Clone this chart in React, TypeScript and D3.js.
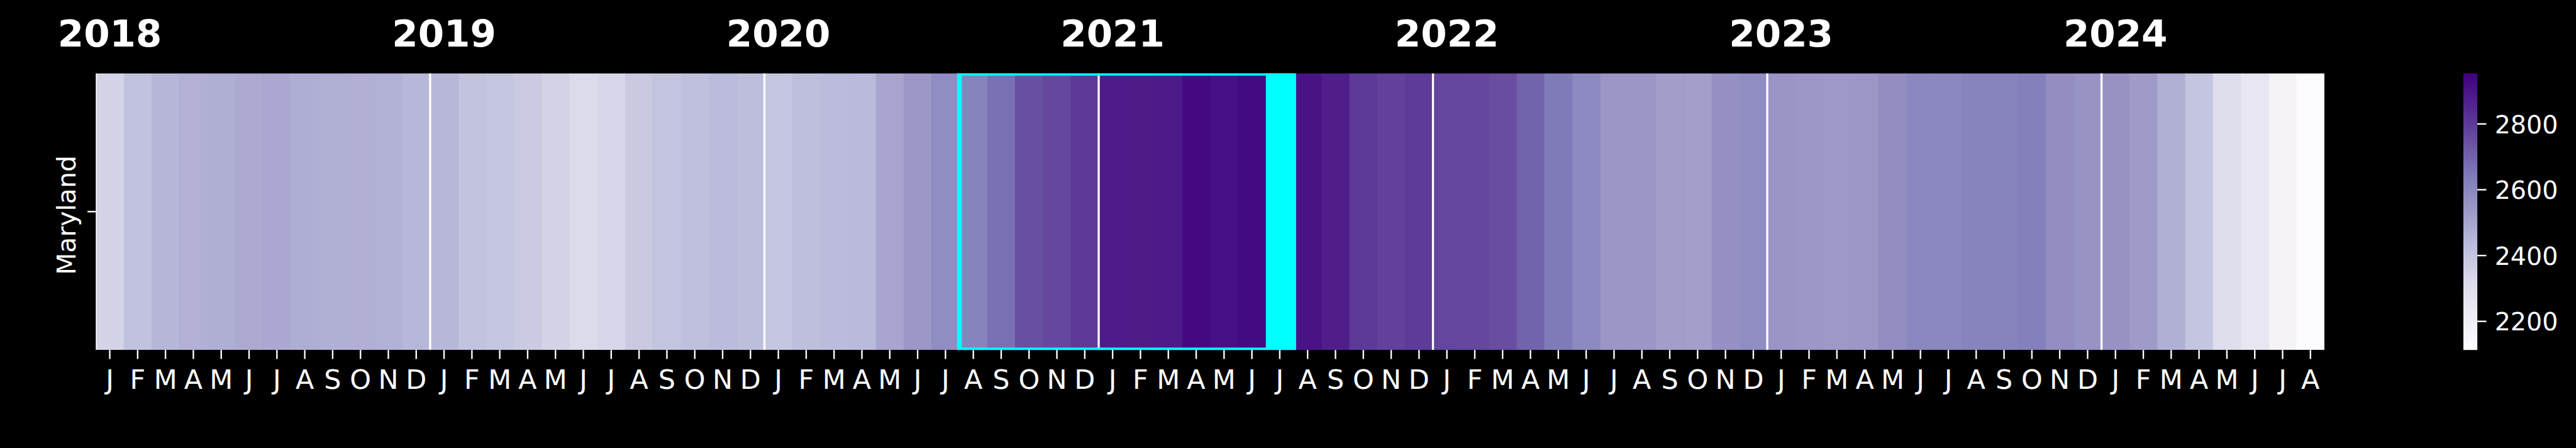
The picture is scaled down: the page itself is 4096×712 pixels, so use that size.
import { useEffect, useRef } from 'react';
import * as d3 from 'd3';

// monthly values (Maryland)
const years = [2018, 2019, 2020, 2021, 2022, 2023, 2024];
const monthLetters = ['J', 'F', 'M', 'A', 'M', 'J', 'J', 'A', 'S', 'O', 'N', 'D'];
const states = ['Maryland'];

const v2018 = [2345, 2410, 2449, 2465, 2474, 2484, 2488, 2476, 2470, 2468, 2467, 2446];
const v2019 = [2447, 2407, 2396, 2381, 2349, 2317, 2334, 2384, 2403, 2417, 2432, 2425];
const v2020 = [2396, 2421, 2432, 2434, 2503, 2544, 2581, 2613, 2670, 2746, 2769, 2806];
const v2021 = [2878, 2881, 2884, 2930, 2914, 2927, 2954, 2903, 2873, 2805, 2783, 2800];
const v2022 = [2772, 2770, 2755, 2703, 2643, 2595, 2547, 2549, 2522, 2518, 2566, 2581];
const v2023 = [2552, 2544, 2541, 2544, 2577, 2599, 2599, 2613, 2617, 2628, 2577, 2559];
const v2024 = [2561, 2530, 2470, 2399, 2301, 2257, 2173, 2113];

const boxStart = '2020-08';
const peakMonth = '2021-07';
const cbarTicks = [2200, 2400, 2600, 2800];

// matplotlib "Purples"
const PURPLES = ['#fcfbfd', '#efedf5', '#dadaeb', '#bcbddc', '#9e9ac8', '#807dba', '#6a51a3', '#54278f', '#3f007d'];

const W = 4300;
const H = 747;
const FONT = 'DejaVu Sans';

const App = () => {
  const ref = useRef(null);

  useEffect(() => {
    document.body.style.margin = '0';
    document.body.style.background = '#000';

    const values = [...v2018, ...v2019, ...v2020, ...v2021, ...v2022, ...v2023, ...v2024];
    const keys = values.map((_, i) => {
      const yr = years[0] + Math.floor(i / 12);
      const m = (i % 12) + 1;
      return `${yr}-${String(m).padStart(2, '0')}`;
    });

    const svg = d3.select(ref.current);
    svg.selectAll('*').remove();
    svg
      .attr('viewBox', `0 0 ${W} ${H}`)
      .attr('width', 4096)
      .attr('height', 712)
      .style('display', 'block')
      .style('background', '#000');

    const left = 160, right = 3880, top = 122, bottom = 583.7;

    const x = d3.scaleBand().domain(keys).range([left, right]);
    const y = d3.scaleBand().domain(states).range([top, bottom]);

    const extent = d3.extent(values);
    const norm = d3.scaleLinear().domain(extent).range([0, 1]).clamp(true);
    const purples = d3
      .scaleLinear()
      .domain(PURPLES.map((_, i) => i / (PURPLES.length - 1)))
      .range(PURPLES)
      .interpolate(d3.interpolateRgb);
    const color = (v) => purples(norm(v));

    const defs = svg.append('defs');
    defs.append('clipPath').attr('id', 'axclip')
      .append('rect')
      .attr('x', left).attr('y', top)
      .attr('width', right - left).attr('height', bottom - top);

    const grad = defs.append('linearGradient')
      .attr('id', 'cbar')
      .attr('x1', 0).attr('y1', 1).attr('x2', 0).attr('y2', 0);
    PURPLES.forEach((c, i) => {
      grad.append('stop').attr('offset', i / (PURPLES.length - 1)).attr('stop-color', c);
    });

    // cells
    const plot = svg.append('g').attr('clip-path', 'url(#axclip)');
    plot.selectAll('.cell')
      .data(values)
      .join('rect')
      .attr('class', 'cell')
      .attr('x', (d, i) => x(keys[i]))
      .attr('y', y('Maryland'))
      .attr('width', x.bandwidth() + 0.6)
      .attr('height', y.bandwidth())
      .attr('fill', (d) => color(d));

    // year separators
    plot.selectAll('.yr-line')
      .data(years)
      .join('line')
      .attr('x1', (d) => x(`${d}-01`))
      .attr('x2', (d) => x(`${d}-01`))
      .attr('y1', top)
      .attr('y2', bottom)
      .attr('stroke', '#fff')
      .attr('stroke-width', 3.5);

    // peak highlight
    plot.append('rect')
      .attr('x', x(peakMonth))
      .attr('y', top)
      .attr('width', x.bandwidth())
      .attr('height', bottom - top)
      .attr('fill', '#00ffff');

    plot.append('rect')
      .attr('x', x(boxStart))
      .attr('y', top)
      .attr('width', x(peakMonth) + x.bandwidth() - x(boxStart))
      .attr('height', bottom - top)
      .attr('fill', 'none')
      .attr('stroke', '#00ffff')
      .attr('stroke-width', 8);

    // year labels
    svg.selectAll('.yr-label')
      .data(years)
      .join('text')
      .attr('x', (d) => x(`${d}-01`) + x.bandwidth() / 2)
      .attr('y', 77.3)
      .attr('text-anchor', 'middle')
      .attr('font-family', FONT)
      .attr('font-weight', 'bold')
      .attr('font-size', 62.5)
      .attr('fill', '#fff')
      .text((d) => d);

    // x ticks
    const xt = svg.selectAll('.xtick')
      .data(keys)
      .join('g')
      .attr('transform', (d) => `translate(${x(d) + x.bandwidth() / 2},${bottom})`);
    xt.append('line').attr('y2', 15).attr('stroke', '#fff').attr('stroke-width', 2.5);
    xt.append('text')
      .attr('y', 65)
      .attr('text-anchor', 'middle')
      .attr('font-family', FONT)
      .attr('font-size', 45)
      .attr('fill', '#fff')
      .text((d, i) => monthLetters[i % 12]);

    // y tick
    const yc = y('Maryland') + y.bandwidth() / 2;
    svg.append('line')
      .attr('x1', left - 14).attr('x2', left)
      .attr('y1', yc).attr('y2', yc)
      .attr('stroke', '#fff').attr('stroke-width', 2.5);
    svg.append('text')
      .attr('transform', `translate(126,${yc + 6}) rotate(-90)`)
      .attr('text-anchor', 'middle')
      .attr('font-family', FONT)
      .attr('font-size', 43)
      .attr('fill', '#fff')
      .text(states[0]);

    // colorbar
    const cbLeft = 4112, cbW = 23.3;
    svg.append('rect')
      .attr('x', cbLeft).attr('y', top)
      .attr('width', cbW).attr('height', bottom - top)
      .attr('fill', 'url(#cbar)');

    const cy = d3.scaleLinear().domain(extent).range([bottom, top]);
    const ct = svg.selectAll('.ctick')
      .data(cbarTicks)
      .join('g')
      .attr('transform', (d) => `translate(${cbLeft + cbW},${cy(d)})`);
    ct.append('line').attr('x2', 15).attr('stroke', '#fff').attr('stroke-width', 2.5);
    ct.append('text')
      .attr('x', 29)
      .attr('y', 15.5)
      .attr('font-family', FONT)
      .attr('font-size', 41.5)
      .attr('fill', '#fff')
      .text((d) => d);
  }, []);

  return <svg ref={ref} style={{ position: 'fixed', left: 0, top: 0 }}></svg>;
};

export default App;
